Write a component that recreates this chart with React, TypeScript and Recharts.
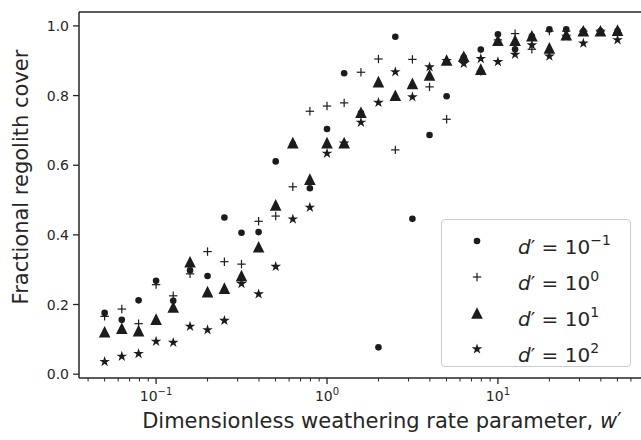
import React from "react";
import {
  ScatterChart,
  Scatter,
  XAxis,
  YAxis,
  ReferenceLine,
  Legend,
} from "recharts";

// dimensionless weathering rate parameter w'
const wPrime = [
  0.05, 0.063, 0.079, 0.1, 0.126, 0.158, 0.2, 0.251, 0.316, 0.398, 0.501,
  0.631, 0.794, 1.0, 1.26, 1.58, 2.0, 2.51, 3.16, 3.98, 5.01, 6.31, 7.94, 10.0,
  12.6, 15.8, 20.0, 25.1, 31.6, 39.8, 50.1,
];

// fractional regolith cover for each d'
const coverD01 = [
  0.176, 0.156, 0.212, 0.268, 0.211, 0.298, 0.282, 0.45, 0.406, 0.408, 0.611,
  0.66, 0.534, 0.704, 0.864, 0.75, 0.077, 0.969, 0.446, 0.687, 0.798, 0.91,
  0.932, 0.976, 0.933, 0.97, 0.99, 0.99, 0.985, 0.985, 0.985,
];
const coverD1 = [
  0.166, 0.187, 0.145, 0.257, 0.225, 0.288, 0.352, 0.323, 0.316, 0.439, 0.454,
  0.538, 0.755, 0.77, 0.779, 0.867, 0.905, 0.644, 0.904, 0.825, 0.732, 0.9,
  0.87, 0.96, 0.978, 0.933, 0.985, 0.985, 0.985, 0.985, 0.98,
];
const coverD10 = [
  0.122, 0.132, 0.125, 0.158, 0.193, 0.323, 0.237, 0.247, 0.283, 0.366, 0.486,
  0.665, 0.56, 0.665, 0.665, 0.752, 0.84, 0.801, 0.835, 0.859, 0.902, 0.913,
  0.876, 0.959, 0.959, 0.972, 0.937, 0.975, 0.986, 0.986, 0.988,
];
const coverD100 = [
  0.036, 0.051, 0.059, 0.094, 0.091, 0.137, 0.127, 0.154, 0.26, 0.23, 0.309,
  0.445, 0.479, 0.634, 0.663, 0.723, 0.78, 0.868, 0.796, 0.882, 0.9, 0.892,
  0.906, 0.897, 0.918, 0.945, 0.913, 0.97, 0.95, 0.984, 0.96,
];

const seriesExponents = ["−1", "0", "1", "2"];

const xMajorTicks = [0.1, 1, 10];
const xMinorTicks = [
  0.04, 0.05, 0.06, 0.07, 0.08, 0.09, 0.2, 0.3, 0.4, 0.5, 0.6, 0.7, 0.8, 0.9,
  2, 3, 4, 5, 6, 7, 8, 9, 20, 30, 40, 50, 60, 70,
];
const yTicks = [0, 0.2, 0.4, 0.6, 0.8, 1.0];

const ink = "#262626";
const mark = "#1c1c1c";
const font = "DejaVu Sans, sans-serif";
const tickFont = 14;
const labelFont = 21;

const toPoints = (ys: number[]) => wPrime.map((x, i) => ({ x, y: ys[i] }));

function DotMark({ cx, cy }: any) {
  return <circle cx={cx} cy={cy} r={3.3} fill={mark} />;
}

function PlusMark({ cx, cy }: any) {
  const h = 4.2;
  return (
    <g stroke={mark} strokeWidth={1.2}>
      <line x1={cx - h} x2={cx + h} y1={cy} y2={cy} />
      <line x1={cx} x2={cx} y1={cy - h} y2={cy + h} />
    </g>
  );
}

function TriangleMark({ cx, cy }: any) {
  const h = 5.8;
  return (
    <polygon
      points={`${cx},${cy - h} ${cx - h},${cy + h} ${cx + h},${cy + h}`}
      fill={mark}
    />
  );
}

function StarMark({ cx, cy }: any) {
  const outer = 5.6;
  const inner = outer * 0.382;
  const pts: string[] = [];
  for (let k = 0; k < 10; k++) {
    const r = k % 2 === 0 ? outer : inner;
    const a = -Math.PI / 2 + (k * Math.PI) / 5;
    pts.push(`${cx + r * Math.cos(a)},${cy + r * Math.sin(a)}`);
  }
  return <polygon points={pts.join(" ")} fill={mark} />;
}

const markers = [DotMark, PlusMark, TriangleMark, StarMark];

function XTick({ x, y, payload }: any) {
  const v = payload.value;
  const major = xMajorTicks.includes(v);
  const exp = Math.round(Math.log10(v));
  return (
    <g>
      <line
        x1={x}
        x2={x}
        y1={y}
        y2={y + (major ? 6 : 3.5)}
        stroke={ink}
        strokeWidth={major ? 1.3 : 1}
      />
      {major && (
        <text
          x={x}
          y={y + 23}
          textAnchor="middle"
          fontSize={tickFont}
          fill={ink}
          fontFamily={font}
        >
          10
          <tspan dy={-6.5} fontSize={10}>
            {exp < 0 ? "−" + -exp : String(exp)}
          </tspan>
        </text>
      )}
    </g>
  );
}

function YTick({ x, y, payload }: any) {
  return (
    <g>
      <line x1={x - 6} x2={x} y1={y} y2={y} stroke={ink} strokeWidth={1.3} />
      <text
        x={x - 10}
        y={y}
        dy="0.36em"
        textAnchor="end"
        fontSize={tickFont}
        fill={ink}
        fontFamily={font}
      >
        {payload.value.toFixed(1)}
      </text>
    </g>
  );
}

function LegendBox() {
  return (
    <div
      style={{
        width: 190,
        height: 148,
        border: "1px solid #cccccc",
        borderRadius: 4,
        background: "rgba(255,255,255,0.8)",
        boxSizing: "border-box",
        position: "relative",
        fontFamily: font,
        color: ink,
      }}
    >
      {seriesExponents.map((e, i) => {
        const Mk = markers[i];
        return (
          <div
            key={e}
            style={{
              position: "absolute",
              left: 0,
              top: 4 + i * 36,
              height: 32,
              width: "100%",
            }}
          >
            <svg
              width={20}
              height={32}
              style={{ position: "absolute", left: 25, top: 0 }}
            >
              <Mk cx={10} cy={17} />
            </svg>
            <span
              style={{
                position: "absolute",
                left: 76,
                top: 2,
                fontSize: 20,
                whiteSpace: "nowrap",
                lineHeight: "30px",
              }}
            >
              <i>d</i>′ = 10
              <sup style={{ fontSize: 14, position: "relative", top: -1 }}>
                {e}
              </sup>
            </span>
          </div>
        );
      })}
    </div>
  );
}

function XLabel() {
  return (
    <text
      x={382}
      y={428}
      textAnchor="middle"
      fontSize={labelFont}
      fill={ink}
      fontFamily={font}
    >
      Dimensionless weathering rate parameter,{" "}
      <tspan fontStyle="italic">w</tspan>′
    </text>
  );
}

function YLabel() {
  return (
    <text
      x={28}
      y={177}
      transform="rotate(-90 28 177)"
      textAnchor="middle"
      fontSize={labelFont}
      fill={ink}
      fontFamily={font}
    >
      Fractional regolith cover
    </text>
  );
}

export default function App() {
  return (
    <div
      style={{
        position: "absolute",
        left: 0,
        top: 0,
        width: 641,
        height: 440,
        overflow: "hidden",
        background: "#fff",
      }}
    >
      <ScatterChart
        width={653}
        height={440}
        margin={{ top: 12, right: 10, bottom: 0, left: 0 }}
      >
        <XAxis
          type="number"
          dataKey="x"
          scale="log"
          domain={[0.0354, 70.6]}
          allowDataOverflow
          ticks={[...xMinorTicks, ...xMajorTicks].sort((a, b) => a - b)}
          interval={0}
          tick={<XTick />}
          tickLine={false}
          tickSize={0}
          tickMargin={0}
          height={62}
          axisLine={{ stroke: ink, strokeWidth: 1.5 }}
          label={<XLabel />}
        />
        <YAxis
          type="number"
          dataKey="y"
          domain={[-0.011, 1.04]}
          allowDataOverflow
          ticks={yTicks}
          interval={0}
          tick={<YTick />}
          tickLine={false}
          tickSize={0}
          tickMargin={0}
          width={79}
          axisLine={{ stroke: ink, strokeWidth: 1.5 }}
          label={<YLabel />}
        />
        <ReferenceLine
          y={1.04}
          stroke={ink}
          strokeWidth={1.5}
          ifOverflow="visible"
        />
        <Scatter
          data={toPoints(coverD01)}
          shape={DotMark}
          isAnimationActive={false}
        />
        <Scatter
          data={toPoints(coverD1)}
          shape={PlusMark}
          isAnimationActive={false}
        />
        <Scatter
          data={toPoints(coverD10)}
          shape={TriangleMark}
          isAnimationActive={false}
        />
        <Scatter
          data={toPoints(coverD100)}
          shape={StarMark}
          isAnimationActive={false}
        />
        <Legend
          layout="horizontal"
          verticalAlign="middle"
          align="center"
          content={<LegendBox />}
          wrapperStyle={{ left: 441, top: 219, width: 190, height: 148 }}
        />
      </ScatterChart>
    </div>
  );
}
